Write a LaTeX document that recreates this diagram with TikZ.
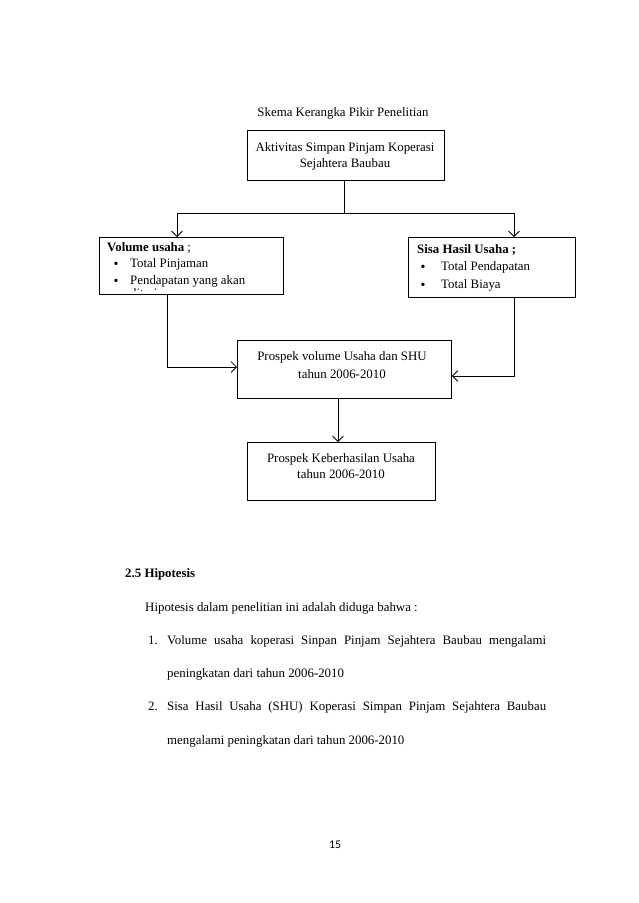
\documentclass[tikz,border=0pt]{standalone}
\usepackage{fontspec}
\setmainfont{Liberation Serif}
\newfontfamily\pnfont{Carlito}
\usetikzlibrary{arrows.meta}
\begin{document}
\begin{tikzpicture}[x=0.9331pt,y=-0.9331pt,
  every node/.style={font=\fontsize{12}{14}\selectfont, inner sep=0pt},
  box/.style={draw, line width=0.8pt, anchor=north west},
  conn/.style={line width=0.8pt},
  arr/.style={line width=0.8pt, -{Straight Barb[length=5pt,width=10pt]}},
  txt/.style={anchor=west},
  ctr/.style={align=center, anchor=center},
  bul/.style={anchor=center, font=\fontsize{13}{13}\selectfont}]
\useasboundingbox (0,0) rectangle (638,903);

% title
\node[anchor=center] (title) at (343,113) {Skema Kerangka Pikir Penelitian};

% boxes
\node[box, minimum width=197*0.9331pt, minimum height=50*0.9331pt] (top) at (247,130) {};
\node[ctr] (toptxt) at (345,156) {Aktivitas Simpan Pinjam Koperasi\\[1pt]Sejahtera Baubau};

\node[box, minimum width=184*0.9331pt, minimum height=57*0.9331pt] (left) at (99,237) {};
\node[txt] (l1) at (107,248) {\textbf{Volume usaha} ;};
\node[bul] (lb1) at (116,265) {\textbullet};
\node[txt] (l2) at (130,264) {Total Pinjaman};
\node[bul] (lb2) at (116,282) {\textbullet};
\node[txt] (l3) at (130,281) {Pendapatan yang akan};
\begin{scope}
  \clip (100,238) rectangle (282,290);
  \node[anchor=base west] (l4) at (130,297) {diterima};
\end{scope}

\node[box, minimum width=167*0.9331pt, minimum height=60*0.9331pt] (right) at (408,237) {};
\node[txt] (r1) at (417,250) {\textbf{Sisa Hasil Usaha ;}};
\node[bul] (rb1) at (423,268) {\textbullet};
\node[txt] (r2) at (441,267) {Total Pendapatan};
\node[bul] (rb2) at (423,286) {\textbullet};
\node[txt] (r3) at (441,285) {Total Biaya};

\node[box, minimum width=214*0.9331pt, minimum height=58*0.9331pt] (mid) at (237,340) {};
\node[ctr] (midtxt) at (342,365) {Prospek volume Usaha dan SHU\\[3pt]tahun 2006-2010};

\node[box, minimum width=188*0.9331pt, minimum height=58*0.9331pt] (bot) at (247,442) {};
\node[ctr] (bottxt) at (341,466) {Prospek Keberhasilan Usaha\\[1pt]tahun 2006-2010};

% connectors
\coordinate (split) at (344,213);
\coordinate (sl) at (177,213);
\coordinate (sr) at (514,213);
\draw[conn] (top.south -| split) -- (split);
\draw[conn] (sl) -- (sr);
\draw[arr] (sl) -- (sl |- left.north);
\draw[arr] (sr) -- (sr |- right.north);

\coordinate (lc) at (167,367);
\draw[arr] (lc |- left.south) -- (lc) -- (lc -| mid.west);
\coordinate (rc) at (514,376);
\draw[arr] (rc |- right.south) -- (rc) -- (rc -| mid.east);
\coordinate (mc) at (338,398);
\draw[arr] (mc) -- (mc |- bot.north);

% text section
\node[anchor=base west] (h25) at (125,577) {\textbf{2.5 Hipotesis}};
\node[anchor=base west] (p1) at (145,611) {Hipotesis dalam penelitian ini adalah diduga bahwa :};
\node[anchor=base west] (n1) at (148,644) {1.};
\node[anchor=base west] (i1a) at (167,644) {\makebox[353.6pt][s]{Volume usaha koperasi Sinpan Pinjam Sejahtera Baubau mengalami}};
\node[anchor=base west] (i1b) at (167,677) {peningkatan dari tahun 2006-2010};
\node[anchor=base west] (n2) at (148,710) {2.};
\node[anchor=base west] (i2a) at (167,710) {\makebox[353.6pt][s]{Sisa Hasil Usaha (SHU) Koperasi Simpan Pinjam Sejahtera Baubau}};
\node[anchor=base west] (i2b) at (167,744) {mengalami peningkatan dari tahun 2006-2010};

\node[anchor=center, font=\pnfont\fontsize{11}{13}\selectfont] (pg) at (335,845) {15};
\end{tikzpicture}
\end{document}
